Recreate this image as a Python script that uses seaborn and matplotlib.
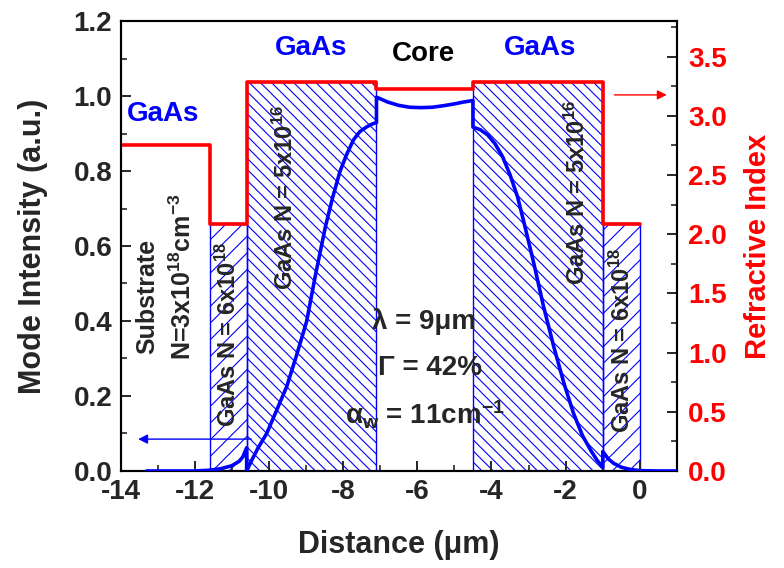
import numpy as np
import pandas as pd
import matplotlib
matplotlib.use("Agg")
import matplotlib.pyplot as plt
from matplotlib.ticker import MultipleLocator
import seaborn as sns

# ---- mode intensity profile (a.u.) along the growth direction (um) ----
distance = [-13.3, -12.5, -12.0, -11.6, -11.3, -11.0, -10.8, -10.7, -10.6,
            -10.6, -10.46, -10.3, -10.06, -9.8, -9.52, -9.25, -8.98, -8.75,
            -8.48, -8.28, -8.08, -7.9, -7.72, -7.55, -7.36, -7.2, -7.1,
            -7.1, -6.8, -6.5, -6.2, -5.9, -5.6, -5.3, -5.0, -4.75, -4.5,
            -4.5, -4.3, -4.1, -3.9, -3.7, -3.5, -3.3, -3.13, -2.86, -2.6, -2.32,
            -2.05, -1.79, -1.55, -1.33, -1.15, -1.0,
            -1.0, -0.85, -0.7, -0.5, -0.26, 0.0, 0.5, 1.0]
intensity = [0.0, 0.0, 0.0, 0.002, 0.006, 0.014, 0.026, 0.038, 0.062,
             0.0, 0.029, 0.06, 0.10, 0.16, 0.225, 0.31, 0.40, 0.52,
             0.65, 0.73, 0.80, 0.845, 0.883, 0.905, 0.918, 0.926, 0.929,
             0.997, 0.984, 0.975, 0.970, 0.969, 0.970, 0.974, 0.979, 0.984, 0.988,
             0.917, 0.910, 0.896, 0.872, 0.838, 0.79, 0.732, 0.665, 0.554, 0.44, 0.331,
             0.235, 0.154, 0.095, 0.056, 0.028, 0.01,
             0.052, 0.032, 0.02, 0.01, 0.004, 0.001, 0.0, 0.0]

# ---- refractive index of each layer (left edge of layer, index) ----
layer_edges = [-14.0, -11.6, -10.6, -7.1, -4.5, -1.0, 0.0]
refr_index = [2.75, 2.09, 3.286, 3.226, 3.286, 2.09, 2.09]

# ---- doped GaAs cladding layers ----
clad_start = [-11.6, -10.6, -4.5, -1.0]
clad_width = [1.0, 3.5, 3.5, 1.0]
clad_index = [2.09, 3.286, 3.286, 2.09]
clad_doping = ["6x10$^{18}$", "5x10$^{16}$", "5x10$^{16}$", "6x10$^{18}$"]

x_ticks = list(range(-14, 1, 2))
y_ticks = [0.0, 0.2, 0.4, 0.6, 0.8, 1.0, 1.2]
n_ticks = [0.0, 0.5, 1.0, 1.5, 2.0, 2.5, 3.0, 3.5]

sns.set_style("ticks")
plt.rcParams["font.family"] = ["Liberation Sans", "DejaVu Sans"]
plt.rcParams["font.weight"] = "bold"
plt.rcParams["axes.labelweight"] = "bold"
plt.rcParams["mathtext.fontset"] = "custom"
plt.rcParams["mathtext.rm"] = "Liberation Sans:bold"
plt.rcParams["mathtext.bf"] = "Liberation Sans:bold"
plt.rcParams["mathtext.it"] = "Liberation Sans:bold"
plt.rcParams["mathtext.default"] = "bf"
plt.rcParams["hatch.color"] = "blue"
plt.rcParams["hatch.linewidth"] = 0.8

fig = plt.figure(figsize=(7.84, 5.68), dpi=100)
ax = fig.add_axes([0.1537, 0.1708, 0.7098, 0.7922])
ax2 = ax.twinx()

# hatched cladding blocks, height = layer refractive index
for x0, w, n, dop in zip(clad_start, clad_width, clad_index, clad_doping):
    hatch = "//" if "18" in dop else "\\\\\\"
    ax2.bar(x0, n, width=w, align="edge", facecolor="none",
            edgecolor="blue", hatch=hatch, linewidth=1.0, zorder=1)

# refractive index step profile
sns.lineplot(x=layer_edges, y=refr_index, ax=ax2, color="red", linewidth=2.6,
             drawstyle="steps-post", sort=False, estimator=None, zorder=3)

# mode intensity profile
sns.lineplot(x=distance, y=intensity, ax=ax, color="blue", linewidth=2.6,
             sort=False, estimator=None, zorder=4)
ax.set_zorder(ax2.get_zorder() + 1)
ax.patch.set_visible(False)

# axes ranges and ticks
ax.set_xlim(-14, 1)
ax.set_ylim(0, 1.2)
ax2.set_ylim(0, 3.8)
ax.set_xticks(x_ticks)
ax.set_yticks(y_ticks)
ax2.set_yticks(n_ticks)
ax.set_xticklabels([f"{t}" for t in x_ticks])
ax.set_yticklabels([f"{t:.1f}" for t in y_ticks])
ax2.set_yticklabels([f"{t:.1f}" for t in n_ticks])
ax.xaxis.set_minor_locator(MultipleLocator(1))
ax.yaxis.set_minor_locator(MultipleLocator(0.1))
ax2.yaxis.set_minor_locator(MultipleLocator(0.25))

ax.tick_params(axis="both", which="major", direction="in", length=7, width=1.4,
               labelsize=20, top=False, right=False)
ax.tick_params(axis="both", which="minor", direction="in", length=4, width=1.2,
               top=False, right=False)
ax.tick_params(axis="x", pad=6)
ax.tick_params(axis="y", pad=6)
ax2.tick_params(axis="y", which="major", direction="in", length=7, width=1.4,
                labelsize=20, labelcolor="red", pad=8)
ax2.tick_params(axis="y", which="minor", direction="in", length=4, width=1.2)
for a in (ax, ax2):
    for s in a.spines.values():
        s.set_linewidth(1.5)
        s.set_color("black")

ax.set_xlabel("Distance (μm)", fontsize=22, labelpad=18)
ax.set_ylabel("Mode Intensity (a.u.)", fontsize=22, labelpad=18)
ax2.set_ylabel("Refractive Index", fontsize=21, color="red", labelpad=12)

# layer annotations
ax.text(-12.85, 0.952, "GaAs", color="blue", fontsize=20, ha="center", va="center")
ax.text(-8.87, 1.128, "GaAs", color="blue", fontsize=20, ha="center", va="center")
ax.text(-5.83, 1.112, "Core", color="black", fontsize=20, ha="center", va="center")
ax.text(-2.69, 1.128, "GaAs", color="blue", fontsize=20, ha="center", va="center")

ax.text(-13.29, 0.465, "Substrate", fontsize=18, rotation=90, ha="center", va="center")
ax.text(-12.31, 0.518, "N=3x10$^{18}$cm$^{-3}$", fontsize=18, rotation=90,
        ha="center", va="center")

label_pos = [(-11.09, 0.363), (-9.56, 0.728), (-1.69, 0.742), (-0.48, 0.349)]
for (tx, ty), dop in zip(label_pos, clad_doping):
    ax.text(tx, ty, "GaAs N = " + dop, fontsize=17, rotation=90,
            ha="center", va="center")

ax.text(-5.81, 0.398, "λ = 9μm", fontsize=20, ha="center", va="center")
ax.text(-5.65, 0.275, "Γ = 42%", fontsize=20, ha="center", va="center")
ax.text(-5.79, 0.149, "α$_{w}$ = 11cm$^{-1}$", fontsize=20, ha="center", va="center")

# arrows pointing to the axis each curve belongs to
ax.annotate("", xy=(-13.6, 0.085), xytext=(-10.4, 0.085),
            arrowprops=dict(arrowstyle="-|>", color="blue", lw=1.0,
                            mutation_scale=14))
ax2.annotate("", xy=(0.8, 3.176), xytext=(-0.76, 3.176),
             arrowprops=dict(arrowstyle="-|>", color="red", lw=1.0,
                             mutation_scale=14))

fig.savefig("out.png", dpi=100)
